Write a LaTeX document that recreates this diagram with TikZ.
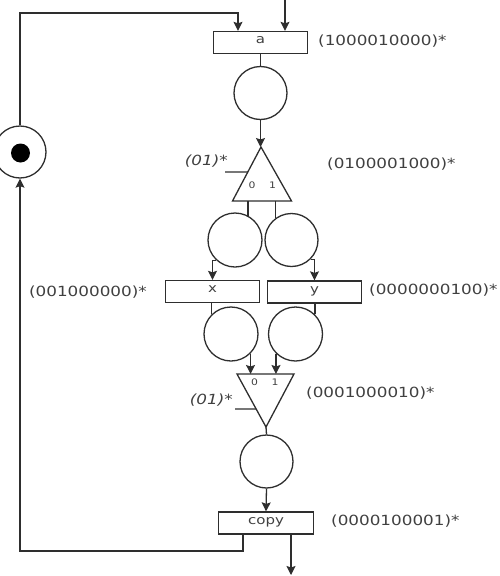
\documentclass[tikz,border=0pt]{standalone}
\usepackage{fontspec}
\usepackage{xcolor}
\usepackage{tikz}
\usetikzlibrary{arrows.meta,positioning,calc}
\newfontfamily\lblfont[FakeStretch=1.2]{DejaVu Sans}
\definecolor{ink}{HTML}{2E2E2E}
\definecolor{txt}{HTML}{404040}
\tikzstyle{place}=[circle, draw=ink, line width=1.3pt, minimum size=53pt, inner sep=0pt]
\tikzstyle{trans}=[rectangle, draw=ink, line width=1.3pt, minimum width=94pt, minimum height=22pt,
  inner sep=0pt, text height=8pt, text depth=6pt, text=txt, font=\lblfont\fontsize{12.5}{12.5}\selectfont]
\tikzstyle{seq}=[inner sep=0pt, text=txt, font=\lblfont\fontsize{14}{14}\selectfont]
\tikzstyle{pat}=[inner sep=0pt, text=txt, font=\lblfont\itshape\fontsize{14}{14}\selectfont]
\tikzstyle{bit}=[inner sep=0pt, text=txt, font=\lblfont\fontsize{9}{9}\selectfont]
\tikzstyle{wire}=[draw=ink, line width=1.3pt]
\tikzstyle{arrow}=[wire, -{Stealth[length=9pt,width=9pt,inset=1.5pt]}]

\begin{document}
\begin{tikzpicture}[x=1pt,y=-1pt]
\useasboundingbox (0,0) rectangle (499,576);
\node (a) [trans] at (260.5,42.5) {a};
\node (p1) [place] at (260.5,93) {};
\coordinate (t1top) at (261,147);
\coordinate (t1r) at (291.5,201);
\coordinate (t1l) at (232.5,201);
\draw[wire] (t1top) -- (t1r) -- (t1l) -- cycle;
\node (b10) [bit] at (252,185) {0};
\node (b11) [bit] at (272.5,185) {1};
\node (p2) [place, minimum size=54pt] at (235,240) {};
\node (p3) [place] at (291.5,240) {};
\node (x) [trans] at (212.5,291.5) {x};
\node (y) [trans] at (314.5,292) {y};
\node (p4) [place, minimum size=54pt] at (231,334) {};
\node (p5) [place, minimum size=54pt] at (295.5,334) {};
\coordinate (t2l) at (237,374);
\coordinate (t2r) at (294,374);
\coordinate (t2bot) at (266,427);
\draw[wire] (t2l) -- (t2r) -- (t2bot) -- cycle;
\node (b20) [bit] at (254.5,382) {0};
\node (b21) [bit] at (275,382) {1};
\node (p6) [place] at (266.5,461.5) {};
\node (copy) [trans, minimum width=95pt] at (266,523) {copy};
\node (tok) [place, minimum size=52pt] at (20,152) {};
\node (dot) [circle, fill=black, minimum size=19pt, inner sep=0pt] at (20.5,153) {};

\node (s1) [seq, anchor=west] at (318,41) {(1000010000)*};
\node (s2) [seq, anchor=west] at (327,164) {(0100001000)*};
\node (s3) [seq, anchor=east] at (147,292) {(001000000)*};
\node (s4) [seq, anchor=west] at (369,290) {(0000000100)*};
\node (s5) [seq, anchor=west] at (306,393) {(0001000010)*};
\node (s6) [seq, anchor=west] at (331,521) {(0000100001)*};
\node (r1) [pat, anchor=east] at (228,161) {(01)*};
\node (r2) [pat, anchor=east] at (233,400) {(01)*};

\coordinate (in) at (285,-2);
\coordinate (out) at (291,575);
\coordinate (fbtop) at (20,13);
\coordinate (fbbot) at (20,551);

\draw[arrow] (in) -- (in |- a.north);
\draw[arrow] (tok.north) -- (fbtop) -| ([xshift=-22.5pt]a.north);
\draw[wire] (a.south) -- (p1.north);
\draw[arrow] (p1.south) -- (p1.south |- t1top);
\draw[wire] (225,172) -- ($(t1top)!0.463!(t1l)$);
\draw[wire] (p2.62) -- (p2.62 |- t1l);
\draw[wire] (p3.126) -- (p3.126 |- t1l);
\draw[arrow] (p2.227) -| (x.north);
\draw[arrow] (p3.-45) -| (y.north);
\draw[wire] (p4.135) -- (p4.135 |- x.south);
\draw[wire] (p5.45) -- (p5.45 |- y.south);
\draw[arrow] (p4.-45) -- (p4.-45 |- t2l);
\draw[arrow] (p5.-135) -- (p5.-135 |- t2l);
\draw[wire] (235,409) -- ($(t2l)!0.66!(t2bot)$);
\draw[wire] (t2bot) -- (p6.north);
\draw[arrow] (p6.south) -- (copy.north);
\draw[arrow] (copy.south -| out) -- (out);
\draw[arrow] ([xshift=-23pt]copy.south) |- (fbbot) -- (tok.south);
\end{tikzpicture}
\end{document}
